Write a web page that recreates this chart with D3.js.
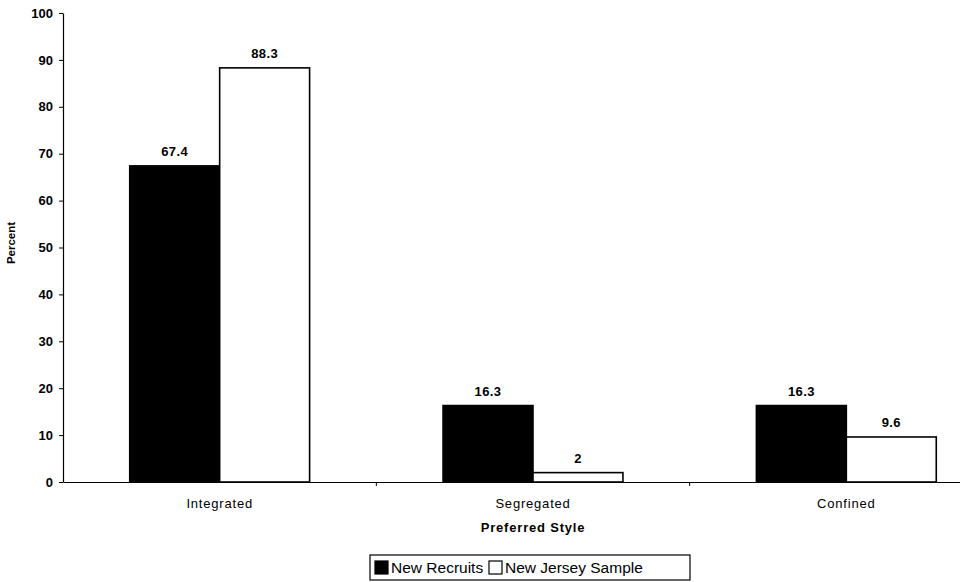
<!DOCTYPE html>
<html>
<head>
<meta charset="utf-8">
<script src="https://cdn.jsdelivr.net/npm/d3@7/dist/d3.min.js"></script>
<style>
  body { margin: 0; background: #fff; }
  svg { display: block; font-family: "Liberation Sans", Arial, sans-serif; }
</style>
</head>
<body>
<svg id="chart" width="960" height="582"></svg>
<script>
// Preferred style by group (percent)
const categories = ["Integrated", "Segregated", "Confined"];
const seriesNames = ["New Recruits", "New Jersey Sample"];
const newRecruits = [67.4, 16.3, 16.3];
const newJerseySample = [88.3, 2, 9.6];
const yTicks = [0, 10, 20, 30, 40, 50, 60, 70, 80, 90, 100];

const seriesValues = [newRecruits, newJerseySample];
const seriesFill = ["#000", "#fff"];
const FONT = "Liberation Sans, Arial, sans-serif";

const svg = d3.select("#chart");
const plot = { left: 63, right: 1003, top: 13, bottom: 482 };

const x0 = d3.scaleBand().domain(categories).range([plot.left, plot.right]).padding(0);
const x1 = d3.scaleBand().domain(seriesNames).range([0, x0.bandwidth()])
  .paddingInner(0).paddingOuter(0.742);
const y = d3.scaleLinear().domain([0, 100]).range([plot.bottom, plot.top]);

// Y axis
const yAxis = svg.append("g").attr("transform", `translate(${plot.left},0)`)
  .call(d3.axisLeft(y).tickValues(yTicks).tickSize(4).tickSizeOuter(0));
yAxis.select(".domain").attr("stroke", "#000").attr("stroke-width", 1.2);
yAxis.selectAll(".tick line").attr("stroke", "#000");
yAxis.selectAll(".tick text").attr("font-size", 13).attr("font-weight", "bold")
  .attr("fill", "#000").attr("font-family", FONT).attr("x", -10);

// Bars
const groups = svg.append("g").selectAll("g").data(categories).join("g")
  .attr("transform", d => `translate(${x0(d)},0)`);

const cells = (c, i) => seriesNames.map((s, k) => ({ s, k, v: seriesValues[k][i] }));

groups.selectAll("rect").data(cells).join("rect")
  .attr("x", d => x1(d.s))
  .attr("y", d => y(d.v))
  .attr("width", x1.bandwidth())
  .attr("height", d => y(0) - y(d.v))
  .attr("fill", d => seriesFill[d.k])
  .attr("stroke", "#000")
  .attr("stroke-width", 1.6);

groups.selectAll("text.val").data(cells).join("text").attr("class", "val")
  .attr("x", d => x1(d.s) + x1.bandwidth() / 2)
  .attr("y", d => y(d.v) - 10)
  .attr("text-anchor", "middle")
  .attr("font-size", 13).attr("font-weight", "bold").attr("letter-spacing", 0.4)
  .text(d => d.v);

// X axis
const xAxis = svg.append("g").attr("transform", `translate(0,${plot.bottom})`)
  .call(d3.axisBottom(x0).tickSize(0).tickSizeOuter(0));
xAxis.select(".domain").attr("stroke", "#000").attr("stroke-width", 1);
xAxis.selectAll(".tick text").attr("font-size", 13).attr("fill", "#000")
  .attr("letter-spacing", 0.8)
  .attr("font-family", FONT).attr("y", 17);
// category boundary ticks
svg.append("g").selectAll("line").data(categories.slice(1)).join("line")
  .attr("x1", d => x0(d)).attr("x2", d => x0(d))
  .attr("y1", plot.bottom).attr("y2", plot.bottom + 4)
  .attr("stroke", "#000");

// Axis titles
svg.append("text")
  .attr("transform", `translate(15,243) rotate(-90)`)
  .attr("text-anchor", "middle").attr("font-size", 11.5).attr("font-weight", "bold")
  .text("Percent");
svg.append("text")
  .attr("x", x0("Segregated") + x0.bandwidth() / 2).attr("y", 532)
  .attr("text-anchor", "middle").attr("font-size", 13).attr("font-weight", "bold")
  .attr("letter-spacing", 0.8)
  .text("Preferred Style");

// Legend
const legend = svg.append("g");
legend.append("rect").attr("x", 370).attr("y", 555).attr("width", 320).attr("height", 25)
  .attr("fill", "#fff").attr("stroke", "#000").attr("stroke-width", 1.2);
const legendX = [375, 489];
seriesNames.forEach((s, k) => {
  legend.append("rect").attr("x", legendX[k]).attr("y", 561).attr("width", 13).attr("height", 13)
    .attr("fill", seriesFill[k]).attr("stroke", "#000").attr("stroke-width", 1.2);
  legend.append("text").attr("x", legendX[k] + 16).attr("y", 573)
    .attr("font-size", 15.5).text(s);
});
</script>
</body>
</html>
